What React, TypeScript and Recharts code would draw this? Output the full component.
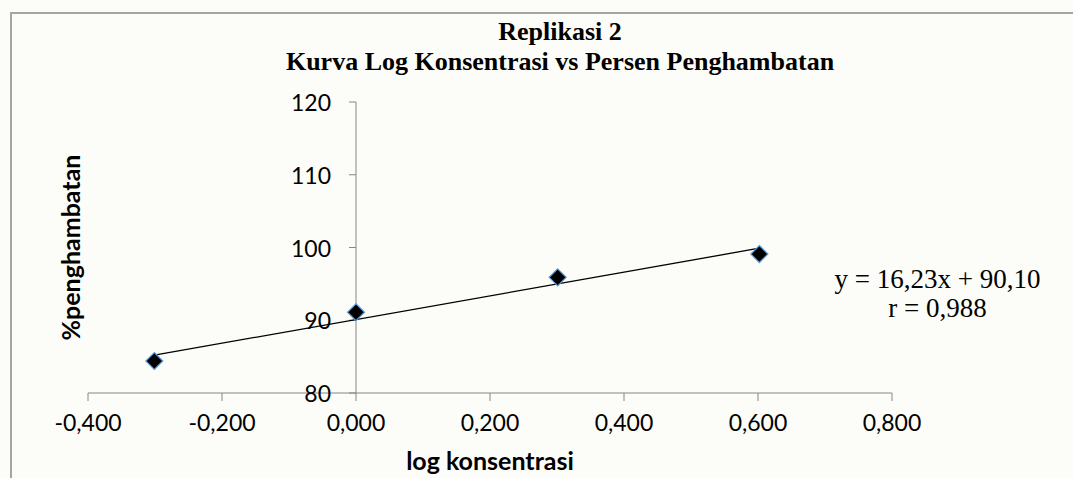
import { ScatterChart, Scatter, XAxis, YAxis, ReferenceLine, ReferenceDot } from "recharts";

const logKonsentrasi = [-0.301, 0.0, 0.301, 0.602];
const persenPenghambatan = [84.4, 91.1, 95.9, 99.1];
const trendX = [-0.301, 0.602];
const trendY = [85.2, 99.9];
const xTicks = [-0.4, -0.2, 0, 0.2, 0.4, 0.6, 0.8];
const yTicks = [80, 90, 100, 110, 120];

const points = logKonsentrasi.map((x, i) => ({ x, y: persenPenghambatan[i] }));
const trend = trendX.map((x, i) => ({ x, y: trendY[i] }));

const AXIS = "#868686";
const SANS = "Lato, 'Open Sans', sans-serif";
const SERIF = "'Liberation Serif', 'DejaVu Serif', serif";

const fmt = (v: number) => v.toFixed(3).replace(".", ",");

const Diamond = (p: any) => {
  const { cx, cy } = p;
  const r = 8.5;
  return (
    <path
      d={`M${cx},${cy - r}L${cx + r},${cy}L${cx},${cy + r}L${cx - r},${cy}Z`}
      fill="#000"
      stroke="#5b9bd5"
      strokeWidth={1.2}
    />
  );
};

const YTick = (p: any) => {
  const { cx, cy, value } = p;
  return (
    <g>
      <line x1={cx - 7} y1={cy} x2={cx} y2={cy} stroke={AXIS} strokeWidth={1} />
      <text
        x={cx - 25}
        y={cy}
        textAnchor="end"
        dominantBaseline="central"
        fontFamily={SANS}
        fontSize={23}
        fill="#000"
      >
        {value}
      </text>
    </g>
  );
};

export default function App() {
  return (
    <div
      style={{
        position: "absolute",
        left: 0,
        top: 0,
        width: 1073,
        height: 478,
        background: "#fcfdf8",
        overflow: "hidden",
      }}
    >
      <div
        style={{
          position: "absolute",
          left: 10,
          top: 12,
          right: -10,
          bottom: -10,
          borderLeft: "2px solid #a5a5a5",
          borderTop: "2px solid #a5a5a5",
        }}
      />
      <div
        style={{
          position: "absolute",
          left: 0,
          top: 17,
          width: 1120,
          textAlign: "center",
          fontFamily: SERIF,
          fontWeight: "bold",
          fontSize: 26,
          lineHeight: "30px",
          color: "#000",
        }}
      >
        Replikasi 2
        <br />
        Kurva Log Konsentrasi vs Persen Penghambatan
      </div>
      <div
        style={{
          position: "absolute",
          left: 827.5,
          top: 265,
          width: 220,
          textAlign: "center",
          fontFamily: SERIF,
          fontSize: 27,
          lineHeight: "29px",
          color: "#000",
          whiteSpace: "nowrap",
        }}
      >
        y = 16,23x + 90,10
        <br />r = 0,988
      </div>
      <div style={{ position: "absolute", left: 0, top: 0 }}>
        <ScatterChart
          width={1073}
          height={478}
          margin={{ top: 102, right: 181, bottom: 0, left: 0 }}
        >
          <XAxis
            type="number"
            dataKey="x"
            domain={[-0.4, 0.8]}
            ticks={xTicks}
            tickFormatter={fmt}
            height={85}
            tickSize={8}
            tickMargin={14}
            axisLine={{ stroke: AXIS }}
            tickLine={{ stroke: AXIS }}
            tick={{ fill: "#000", fontSize: 23, fontFamily: SANS }}
            label={{
              value: "log konsentrasi",
              position: "insideBottom",
              offset: 8,
              fill: "#000",
              fontSize: 25,
              fontWeight: "bold",
              fontFamily: SANS,
            }}
          />
          <YAxis
            type="number"
            dataKey="y"
            domain={[80, 120]}
            ticks={yTicks}
            width={88}
            tick={false}
            tickLine={false}
            axisLine={false}
            label={{
              content: (props: any) => {
                const vb = props.viewBox;
                const x = vb.x + 70;
                const y = vb.y + vb.height / 2;
                return (
                  <text
                    x={x}
                    y={y}
                    transform={`rotate(-90 ${x} ${y})`}
                    textAnchor="middle"
                    dominantBaseline="central"
                    fontFamily={SANS}
                    fontWeight="bold"
                    fontSize={25}
                    fill="#000"
                  >
                    %penghambatan
                  </text>
                );
              },
            }}
          />
          <ReferenceLine x={0} stroke={AXIS} strokeWidth={1} />
          {yTicks.map((v) => (
            <ReferenceDot
              key={v}
              x={0}
              y={v}
              r={0}
              shape={(p: any) => <YTick {...p} value={v} />}
            />
          ))}
          <Scatter
            data={trend}
            line={{ stroke: "#000", strokeWidth: 1.3 }}
            shape={() => null}
            isAnimationActive={false}
          />
          <Scatter data={points} shape={Diamond} isAnimationActive={false} />
        </ScatterChart>
      </div>
    </div>
  );
}
